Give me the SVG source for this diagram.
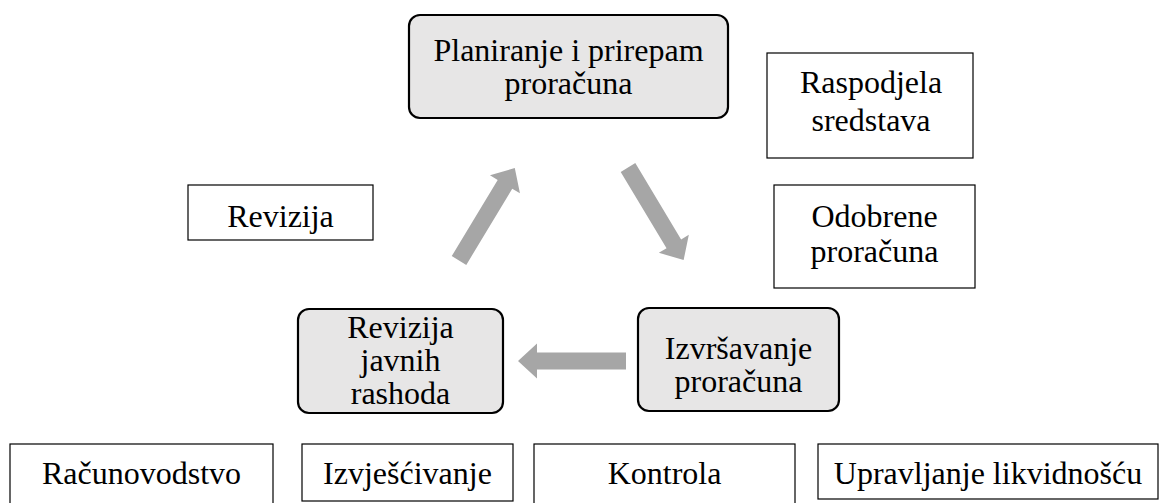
<svg xmlns="http://www.w3.org/2000/svg" xmlns:xlink="http://www.w3.org/1999/xlink" width="1167" height="503" viewBox="0 0 1167 503">
<style>
.main{fill:#e7e6e6;stroke:#000;stroke-width:2.2}
.plain{fill:#fff;stroke:#000;stroke-width:1.2}
.arr{fill:#a6a6a6}
</style>
<defs>
<path id="arrow" d="M0,-8.5 L89,-8.5 L89,-17.5 L108,0 L89,17.5 L89,8.5 L0,8.5 Z"/>
</defs>
<rect width="1167" height="503" fill="#fff"/>
<g id="connectors" class="arr">
<use xlink:href="#arrow" transform="translate(459,260.5) rotate(-58.9)"/>
<use xlink:href="#arrow" transform="translate(628,167.5) rotate(59)"/>
<use xlink:href="#arrow" transform="translate(626,361) rotate(180)"/>
</g>
<g font-family="Liberation Serif, Times New Roman, serif" font-size="32" text-anchor="middle" fill="#000">
<g id="planiranje">
<rect class="main" x="409" y="15" width="319" height="103" rx="11"/>
<text x="568.5" y="61">Planiranje i prirepam</text>
<text x="568.5" y="94">proračuna</text>
</g>
<g id="raspodjela">
<rect class="plain" x="767" y="53" width="206" height="105"/>
<text x="871" y="93">Raspodjela</text>
<text x="871" y="131">sredstava</text>
</g>
<g id="odobrene">
<rect class="plain" x="774" y="185" width="201" height="103"/>
<text x="874.5" y="227">Odobrene</text>
<text x="874.5" y="262">proračuna</text>
</g>
<g id="revizija">
<rect class="plain" x="188" y="185" width="185" height="55"/>
<text x="280.5" y="227">Revizija</text>
</g>
<g id="revizija-javnih">
<rect class="main" x="298" y="309" width="205" height="104" rx="11"/>
<text x="400.5" y="338">Revizija</text>
<text x="400.5" y="371">javnih</text>
<text x="400.5" y="404">rashoda</text>
</g>
<g id="izvrsavanje">
<rect class="main" x="638" y="308" width="201" height="103" rx="11"/>
<text x="738.5" y="359">Izvršavanje</text>
<text x="738.5" y="392">proračuna</text>
</g>
<g id="racunovodstvo">
<rect class="plain" x="10" y="444" width="263" height="62"/>
<text x="141.5" y="484">Računovodstvo</text>
</g>
<g id="izvjescivanje">
<rect class="plain" x="302" y="444" width="211" height="57"/>
<text x="407.5" y="484">Izvješćivanje</text>
</g>
<g id="kontrola">
<rect class="plain" x="534" y="444" width="261" height="62"/>
<text x="664.5" y="484">Kontrola</text>
</g>
<g id="upravljanje">
<rect class="plain" x="818" y="444" width="340" height="55"/>
<text x="988" y="484">Upravljanje likvidnošću</text>
</g>
</g>
</svg>
